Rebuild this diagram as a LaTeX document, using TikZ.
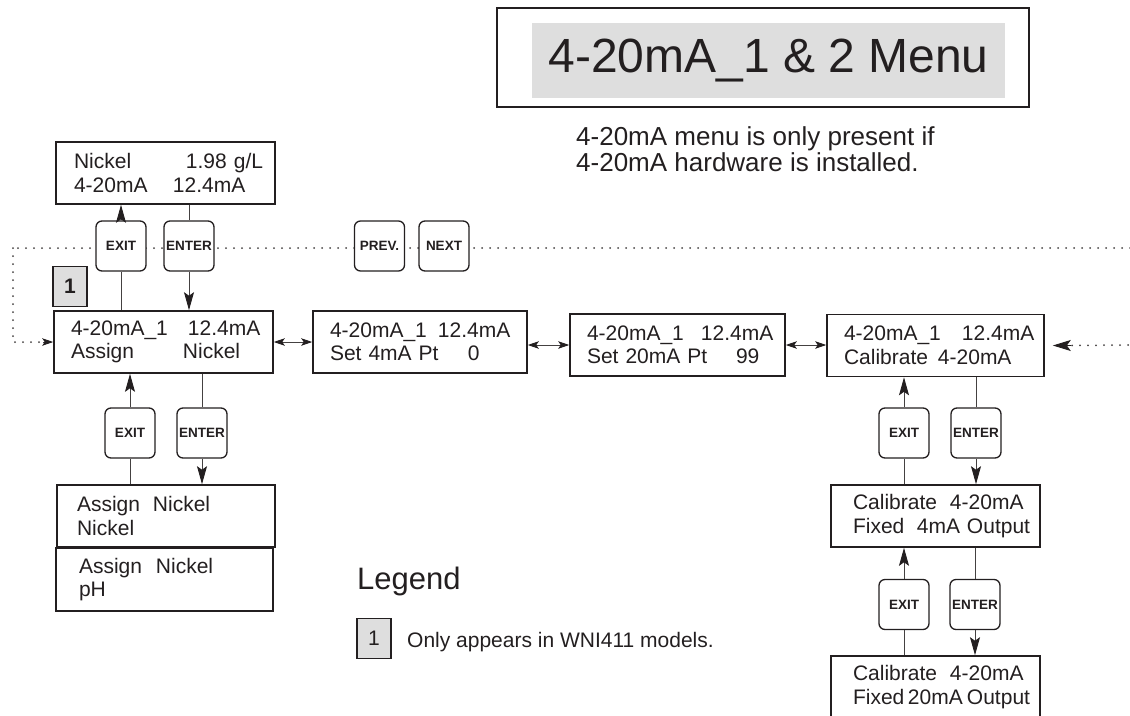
\documentclass[tikz,border=0pt]{standalone}
\usepackage{fontspec}
\setmainfont{Liberation Sans}
\usepackage{xcolor}
\usetikzlibrary{arrows.meta, positioning, calc}

\definecolor{ink}{HTML}{231F20}
\definecolor{panelgray}{HTML}{DEDEDE}

\newcommand{\lcdfont}{\fontsize{21}{23.5}\selectfont}
\newcommand{\keyfont}{\fontsize{13.5}{15}\selectfont\bfseries}
\newcommand{\field}[2]{\makebox[#1pt][l]{#2}}
\newcommand{\tail}[1]{\makebox[0pt][l]{#1}}

\tikzset{
  lcd/.style={draw=ink, line width=1.6pt, fill=white, text=ink, minimum height=62pt,
    inner ysep=0pt, align=left, font=\lcdfont},
  key/.style={draw=ink, line width=1.3pt, rounded corners=6pt, fill=white, text=ink,
    minimum size=50pt, inner sep=0pt, font=\keyfont},
  badge/.style={draw=ink, line width=1.2pt, fill=panelgray, text=ink,
    minimum width=34pt, minimum height=40pt, inner sep=0pt,
    font=\fontsize{21}{22}\selectfont\bfseries},
  link/.style={draw=ink!85, line width=0.9pt},
  up/.style={link, -{Stealth[length=18pt,width=10pt,inset=3.5pt,color=ink]}},
  swap/.style={link, {Stealth[length=11pt,width=7.5pt,inset=2.5pt,color=ink]}-{Stealth[length=11pt,width=7.5pt,inset=2.5pt,color=ink]}},
  wrap/.style={draw=ink!85, line width=2pt, line cap=round, dash pattern=on 0pt off 8pt},
}

\begin{document}
\begin{tikzpicture}[x=1pt, y=-1pt]
    \useasboundingbox (0,0) rectangle (1130,715);

    % Title
    \draw[ink, line width=1.5pt] (497,8) rectangle (1029,107);
    \node[fill=panelgray, text=ink, minimum width=473pt, minimum height=75pt,
      font=\fontsize{48}{56}\selectfont] (title) at (768.5,60.5) {4-20mA\_1 \& 2 Menu};
    \node[anchor=west, align=left, text=ink, inner sep=0pt,
      font=\fontsize{26}{26.5}\selectfont] (note) at (576,149)
      {4-20mA menu is only present if\\4-20mA hardware is installed.};

    % Wrap-around path (behind the keys)
    \coordinate (wrapL) at (13,248);
    \coordinate (wrapR) at (1130,248);
    \coordinate (wrapIn) at (1128,345);
    \draw[wrap] (wrapR) -- (wrapL);

    % Displays
    \node[lcd, text width=183pt, inner xsep=18pt] (reading) at (165.5,173)
      {\field{112}{Nickel}\tail{1.98 g/L}\\\field{99}{4-20mA}\tail{12.4mA}};
    \node[lcd, text width=185pt, inner xsep=17pt] (assign) at (163.5,342)
      {\field{117}{4-20mA\_1}\tail{12.4mA}\\\field{112}{Assign}\tail{Nickel}};
    \node[lcd, text width=180pt, inner xsep=17pt] (setlow) at (420,342)
      {\field{108}{4-20mA\_1}\tail{12.4mA}\\\field{138}{Set 4mA Pt}\tail{0}};
    \node[lcd, text width=181pt, inner xsep=17pt] (sethigh) at (677.5,345)
      {\field{114}{4-20mA\_1}\tail{12.4mA}\\\field{149}{Set 20mA Pt}\tail{99}};
    \node[lcd, text width=183pt, inner xsep=17pt] (calib) at (935.5,345.5)
      {\field{118}{4-20mA\_1}\tail{12.4mA}\\\field{94}{Calibrate}\tail{4-20mA}};
    \node[lcd, text width=165pt, inner xsep=22pt] (fixlow) at (935.5,516)
      {\field{97}{Calibrate}\tail{4-20mA}\\\field{64}{Fixed}\field{50}{4mA}\tail{Output}};
    \node[lcd, text width=165pt, inner xsep=22pt] (fixhigh) at (935.5,687)
      {\field{97}{Calibrate}\tail{4-20mA}\\\field{55}{Fixed}\field{59}{20mA}\tail{Output}};
    \node[lcd, text width=178pt, inner xsep=20pt] (optnickel) at (166,516)
      {\field{76}{Assign}\tail{Nickel}\\Nickel};
    \node[lcd, text width=171pt, inner xsep=23pt, minimum height=63pt] (optph) at (164.5,579.5)
      {\field{77}{Assign}\tail{Nickel}\\pH};

    % Keys
    \node[key] (exitA) at (121,246) {EXIT};
    \node[key] (enterA) at (189,246) {ENTER};
    \node[key] (prev) at (379.5,246) {PREV.};
    \node[key] (next) at (444,246) {NEXT};
    \node[key] (exitB) at (130,433) {EXIT};
    \node[key] (enterB) at (202,433) {ENTER};
    \node[key] (exitC) at (904,433) {EXIT};
    \node[key] (enterC) at (976,433) {ENTER};
    \node[key] (exitD) at (904,604.5) {EXIT};
    \node[key] (enterD) at (975,604.5) {ENTER};

    % Badge
    \node[badge] (mark) at (70,286.5) {1};

    % Wrap-around ends
    \draw[wrap] (wrapL) |- (assign.west);
    \draw[ink!85, line width=0.9pt, -{Stealth[length=11pt,width=7.5pt,inset=2.5pt,color=ink]}]
      ([xshift=-10pt]assign.west) -- (assign.west);
    \draw[wrap] (wrapIn) -- ([xshift=26pt]calib.east);
    \draw[ink, line width=0.9pt, -{Stealth[length=18pt,width=11pt,inset=4pt]}]
      ([xshift=26pt]calib.east) -- ([xshift=8pt]calib.east);

    % Key links
    \draw[link] (assign.north -| exitA) -- (exitA.south);
    \draw[up] (exitA.north) -- (reading.south -| exitA);
    \draw[link] (reading.south -| enterA) -- (enterA.north);
    \draw[up] (enterA.south) -- (assign.north -| enterA);

    \draw[up] (exitB.north) -- (assign.south -| exitB);
    \draw[link] (optnickel.north -| exitB) -- (exitB.south);
    \draw[link] (assign.south -| enterB) -- (enterB.north);
    \draw[up] (enterB.south) -- (optnickel.north -| enterB);

    \draw[up] (exitC.north) -- (calib.south -| exitC);
    \draw[link] (fixlow.north -| exitC) -- (exitC.south);
    \draw[link] (calib.south -| enterC) -- (enterC.north);
    \draw[up] (enterC.south) -- (fixlow.north -| enterC);

    \draw[up] (exitD.north) -- (fixlow.south -| exitD);
    \draw[link] (fixhigh.north -| exitD) -- (exitD.south);
    \draw[link] (fixlow.south -| enterD) -- (enterD.north);
    \draw[up] (enterD.south) -- (fixhigh.north -| enterD);

    % Menu steps
    \draw[swap] (assign.east) -- (setlow.west |- assign.east);
    \draw[swap] (setlow.east |- sethigh.west) -- (sethigh.west);
    \draw[swap] (sethigh.east) -- (calib.west |- sethigh.east);

    % Legend
    \node[anchor=base west, text=ink, inner sep=0pt, font=\fontsize{31}{33}\selectfont]
      (legend) at (357,589) {Legend};
    \node[badge, font=\fontsize{21}{22}\selectfont] (legendmark) at (374,638.5) {1};
    \node[anchor=west, text=ink, inner sep=0pt, font=\fontsize{21}{23}\selectfont]
      (legendnote) at (407,642) {Only appears in WNI411 models.};

\end{tikzpicture}
\end{document}
